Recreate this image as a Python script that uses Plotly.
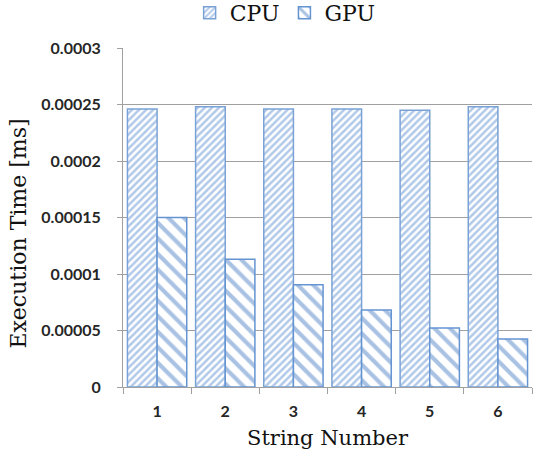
import plotly.graph_objects as go

categories = ["1", "2", "3", "4", "5", "6"]
cpu = [0.000246, 0.000248, 0.000246, 0.000246, 0.000245, 0.000248]
gpu = [0.000150, 0.000113, 0.0000905, 0.0000681, 0.0000522, 0.0000425]
ytick_vals = [0, 0.00005, 0.0001, 0.00015, 0.0002, 0.00025, 0.0003]
ytick_text = ["0", "0.00005", "0.0001", "0.00015", "0.0002", "0.00025", "0.0003"]

serif = "DejaVu Serif, serif"
tickfont = dict(family="Lato, Open Sans, sans-serif", size=16, color="#262626", weight="bold")

fig = go.Figure()
fig.add_trace(go.Bar(
    x=categories, y=cpu, name="CPU",
    marker=dict(color="#ffffff", line=dict(color="#7aa2d6", width=1.5),
                pattern=dict(shape="/", fgcolor="#6494d2", bgcolor="#ffffff", size=5, solidity=0.5)),
))
fig.add_trace(go.Bar(
    x=categories, y=gpu, name="GPU",
    marker=dict(color="#ffffff", line=dict(color="#6494d2", width=1.5),
                pattern=dict(shape="\\", fgcolor="#5486c8", bgcolor="#ffffff", size=11, solidity=0.38)),
))

fig.update_layout(
    width=538, height=458,
    margin=dict(l=123, r=6, t=48, b=71, autoexpand=False),
    paper_bgcolor="white", plot_bgcolor="white",
    barmode="group", bargap=0.13, bargroupgap=0,
    legend=dict(orientation="h", x=0.53, xref="container", xanchor="center",
                y=1.165, yref="paper", yanchor="top",
                font=dict(family=serif, size=22, color="#111111"),
                itemwidth=30, tracegroupgap=0, bgcolor="rgba(0,0,0,0)"),
    showlegend=True,
    annotations=[dict(
        text="Execution Time [ms]", textangle=-90, showarrow=False,
        xref="paper", yref="paper", x=-0.2555, y=0.451, xanchor="center", yanchor="middle",
        font=dict(family=serif, size=22, color="#111111"),
    )],
)
fig.update_yaxes(
    range=[0, 0.0003], tickvals=ytick_vals, ticktext=ytick_text,
    showgrid=True, gridcolor="#a0a0a0", gridwidth=1,
    showline=True, linecolor="#a0a0a0", linewidth=1,
    ticks="outside", ticklen=5, tickcolor="#a0a0a0", ticklabelstandoff=13,
    tickfont=tickfont, zeroline=False,
)
fig.update_xaxes(
    showline=True, linecolor="#a0a0a0", linewidth=1,
    ticks="outside", ticklen=6, tickcolor="#a0a0a0", tickson="boundaries",
    tickfont=tickfont, ticklabelstandoff=10,
    title=dict(text="String Number", font=dict(family=serif, size=21, color="#111111"), standoff=11),
)

fig.write_html("out.html")
